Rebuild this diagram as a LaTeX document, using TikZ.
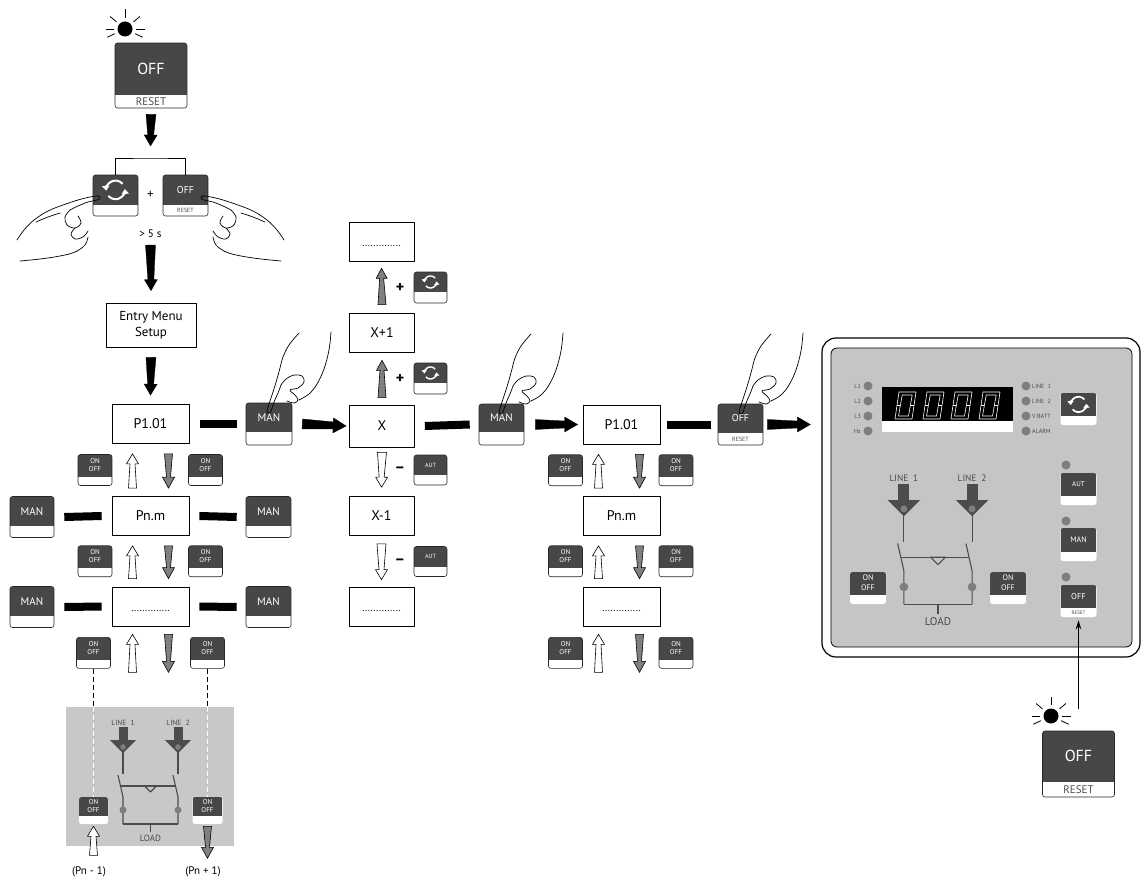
\documentclass[tikz,border=0pt]{standalone}
\usepackage{fontspec}
\setmainfont{PT Sans}
\usetikzlibrary{calc,positioning,arrows.meta}

\definecolor{btndark}{HTML}{474747}
\definecolor{panelgray}{HTML}{C5C5C5}
\definecolor{boxgray}{HTML}{C8C8C8}
\definecolor{arrgray}{HTML}{808080}
\definecolor{ledgray}{HTML}{7E7E7E}
\definecolor{linedark}{HTML}{4C4C4C}
\definecolor{txtgray}{HTML}{4A4A4A}

\newcommand{\fs}[1]{\fontsize{#1}{#1}\selectfont}
\newcommand{\twolines}[3]{\fontsize{#1}{#2}\selectfont\begin{tabular}{@{}c@{}}#3\end{tabular}}
\newcommand{\onoff}{\twolines{7}{8.5}{ON\\OFF}}
\newcommand{\dotrow}{\vphantom{P}{\fs{10}..............}}

% button: [style]{name}{centre}{width}{height}{dark part}{top text}{bottom text}
\newcommand{\keybtn}[8][btn]{%
  \node[#1, minimum width=#4, minimum height=#5,
    path picture={\fill[btndark, sharp corners] (path picture bounding box.north west)
      rectangle ($(path picture bounding box.north east)!#6!(path picture bounding box.south east)$);}]
    (#2) at (#3) {};
  \node[inner sep=0pt, text=white] (#2-t) at ($(#2.north)!#6/2!(#2.south)$) {#7};
  \node[inner sep=0pt, text=txtgray] (#2-b) at ($(#2.north)!0.5+#6/2!(#2.south)$) {#8};
}

% tapered arrow: [style]{base}{tip}{half base}{half neck}{half head}{head length}
\newcommand{\taparrow}[7][]{%
  \coordinate (ta-a) at (#2);
  \coordinate (ta-b) at (#3);
  \coordinate (ta-n) at ($(ta-b)!#7pt!(ta-a)$);
  \filldraw[#1] ($(ta-a)!#4pt!90:(ta-b)$) -- ($(ta-n)!#5pt!90:(ta-b)$) -- ($(ta-n)!#6pt!90:(ta-b)$)
    -- (ta-b) -- ($(ta-n)!#6pt!-90:(ta-b)$) -- ($(ta-n)!#5pt!-90:(ta-b)$) -- ($(ta-a)!#4pt!-90:(ta-b)$) -- cycle;
}

\tikzset{
  btn/.style={draw=black!85, line width=0.6pt, rounded corners=2.5pt, fill=white, inner sep=0pt},
  flatbtn/.style={btn, draw=none},
  disp/.style={draw, line width=0.7pt, minimum width=77, minimum height=39, inner sep=0pt, font=\fs{14}},
  bar/.style={line width=8pt},
  blackarr/.style={fill=black, draw=black, line width=0.3pt},
  grayarr/.style={fill=arrgray, draw=black, line width=0.6pt},
  hollowarr/.style={fill=white, draw=black, line width=0.6pt},
  handline/.style={line width=0.7pt, line cap=round},
  wire/.style={draw=linedark, line width=1.1pt},
  ledtxt/.style={font=\fs{6}, text=txtgray, inner sep=1pt},
  segline/.style={draw=white, line width=0.6pt},
  dline/.style={dash pattern=on 5pt off 3pt, line width=0.7pt},
  % blinking lamp
  sun/.pic={
    \fill (0,0) circle (7.5);
    \foreach \a in {0,25,155,180,220,270,320} \draw[line width=0.8pt] (\a:11) -- (\a:19.5);
  },
  % scroll symbol
  cyc/.pic={
    \draw[white, -{Triangle[length=0pt 2.4, width=0pt 3.6]}] (-40:5.5) arc (-40:-185:5.5);
    \draw[white, -{Triangle[length=0pt 2.4, width=0pt 3.6]}] (140:5.5) arc (140:-5:5.5);
  },
  % hand from above, finger tip at origin
  pointhand/.pic={
    \draw[handline] plot[smooth, tension=0.6] coordinates {(32,-79) (22,-67) (16,-55) (13,-44) (10,-33) (6,-20) (2,-8) (0,-1) (2,1) (4,-1) (7,-10) (11,-19) (14,-27)};
    \draw[handline] plot[smooth, tension=0.6] coordinates {(14,-27) (19,-33) (27,-37) (35,-36) (37,-30) (31,-24) (23,-22) (28,-17) (31,-12) (27,-9) (20,-11)};
    \draw[handline] plot[smooth, tension=0.6] coordinates {(64,-80) (62,-62) (57,-43) (50,-28) (42,-18) (32,-12)};
  },
  % hand from the side, finger tip at origin
  sidehand/.pic={
    \draw[handline] plot[smooth, tension=0.6] coordinates {(-81,43) (-74,33) (-64,23) (-50,14) (-35,8) (-20,3) (-8,0) (0,-1) (2,1) (-1,3) (-10,5) (-20,9) (-28,13)};
    \draw[handline] plot[smooth, tension=0.6] coordinates {(-62,25) (-50,20) (-38,16)};
    \draw[handline] plot[smooth, tension=0.6] coordinates {(-28,13) (-33,20) (-31,28) (-23,31) (-17,26) (-20,19)};
    \draw[handline] plot[smooth, tension=0.6] coordinates {(-23,31) (-27,37) (-23,42) (-15,40) (-10,34)};
    \draw[handline] plot[smooth, tension=0.6] coordinates {(-78,64) (-58,62) (-38,59) (-23,55) (-13,48) (-10,40)};
  },
  % two lines and load
  lines/.pic={
    \foreach \s/\n in {-27.5/1,27.5/2} {
      \node[font=\fs{7.5}, text=txtgray, inner sep=0pt] (-lbl\n) at (\s,-4.5) {LINE\ \ \n};
      \fill[linedark] (\s-4.5,0) rectangle (\s+4.5,14);
      \fill[linedark] (\s-13,13) -- (\s+13,13) -- (\s,26) -- cycle;
      \fill[ledgray] (\s,20) circle (2.8);
      \draw[wire] (\s,25) -- (\s,47);
      \draw[wire] (\s-5,48) -- (\s,70) -- (\s,97);
      \fill[ledgray] (\s,83) circle (3.5);
    }
    \draw[wire] (-30,59) -- (25,59);
    \draw[wire] (-6,59) -- (6,59) -- (0,65) -- cycle;
    \draw[wire] (-27.5,97) -- (27.5,97) (0,97) -- (0,105);
    \node[font=\fs{9}, text=txtgray, inner sep=0pt] (-load) at (0,111) {LOAD};
  }
}

\begin{document}
\begin{tikzpicture}[x=1pt, y=-1pt, line join=round, font=\fs{10}]
\useasboundingbox (0,0) rectangle (1146,880);

% start: OFF key blinking
\keybtn{offtop}{151,75.5}{72}{65}{0.8}{\fs{16}OFF}{\fs{11}RESET}
\pic at (125,29) {sun};

% both keys together
\coordinate (brk) at (150.5,158);
\keybtn{rotk}{115.5,195.5}{45}{41}{0.73}{}{}
\pic[scale=1.7, line width=2pt] at (rotk-t) {cyc};
\keybtn{offk}{185.5,195.5}{45}{41}{0.73}{\fs{10}OFF}{\fs{6}RESET}
\draw[line width=0.6pt] (rotk.north) |- (brk) -| (offk.north);
\node[font=\fs{13}, inner sep=0pt] (plusk) at (150.5,195) {+};
\node[font=\fs{11}, inner sep=0pt] (fives) at (150.5,234) {> 5 s};
\pic at (98,197) {sidehand};
\pic[xscale=-1] at (203,197) {sidehand};

\node[disp, minimum width=90, minimum height=44, align=center, font=\fontsize{13}{16.5}\selectfont] (entry) at (151,325) {Entry Menu\\Setup};
\taparrow[blackarr]{[yshift=-6pt]offtop.south}{[yshift=12pt]brk}{5}{3}{6.5}{11}
\taparrow[blackarr]{[yshift=-7pt]fives.south}{[yshift=12pt]entry.north}{5}{3}{6.5}{11}

% column 1: parameter list
\node[disp] (p1a) at (150.5,424) {P1.01};
\node[disp] (pnma) at (150.5,516) {Pn.m};
\node[disp] (dota) at (150.5,606.5) {\dotrow};
\taparrow[blackarr]{[yshift=-10pt]entry.south}{[yshift=9pt]p1a.north}{5}{3}{6.5}{11}

\keybtn{mana}{269,424}{46}{42}{0.68}{\fs{11}MAN}{}
\foreach \r/\y in {1/517,2/607} {
  \keybtn{manl\r}{32,\y}{44}{41}{0.72}{\fs{11}MAN}{}
  \keybtn{manr\r}{268.5,\y}{45}{41}{0.72}{\fs{11}MAN}{}
}
\draw[bar] ([xshift=11pt]p1a.east) -- ([xshift=-9pt]mana.west);
\draw[bar] ([xshift=10pt]manl1.east) -- ([xshift=-10pt]pnma.west);
\draw[bar] ([xshift=10pt]pnma.east) -- ([xshift=-9pt]manr1.west);
\draw[bar] ([xshift=10pt]manl2.east) -- ([xshift=-10pt]dota.west);
\draw[bar] ([xshift=10pt]dota.east) -- ([xshift=-9pt]manr2.west);

% column 2: value
\node[disp, minimum width=65] (dtop) at (381.5,241.5) {\dotrow};
\node[disp, minimum width=65] (xp1) at (382,332.5) {X+1};
\node[disp, minimum width=65, minimum height=42] (xx) at (382,426) {X};
\node[disp, minimum width=65] (xm1) at (381.5,516) {X-1};
\node[disp, minimum width=65] (dbot) at (381.5,606.5) {\dotrow};
\taparrow[grayarr]{[yshift=8pt]xp1.north}{[yshift=-7pt]dtop.south}{4}{2}{5.5}{10}
\taparrow[grayarr]{[yshift=7pt]xx.north}{[yshift=-8pt]xp1.south}{4}{2}{5.5}{10}
\taparrow[hollowarr]{[yshift=-5pt]xx.south}{[yshift=9pt]xm1.north}{4.5}{2.5}{6}{10}
\taparrow[hollowarr]{[yshift=-8pt]xm1.south}{[yshift=7pt]dbot.north}{4.5}{2.5}{6}{10}
\foreach \y/\n in {287.5/1,378.5/2} {
  \node[font=\bfseries\fs{16}, inner sep=0pt] (plx\n) at (400,\y) {+};
  \keybtn{rotx\n}{430.5,\y}{33}{31}{0.65}{}{}
  \pic[scale=1.1, line width=1.4pt] at (rotx\n-t) {cyc};
}
\foreach \y/\n in {470/1,561.5/2} {
  \node[font=\bfseries\fs{16}, inner sep=0pt] (mix\n) at (400,\y) {–};
  \keybtn{autx\n}{430.5,\y}{33}{30}{0.67}{\fs{6}AUT}{}
}
\keybtn{manb}{501.5,424.5}{45}{41}{0.68}{\fs{11}MAN}{}
\taparrow[blackarr]{[xshift=10pt]mana.east}{[xshift=-3pt]xx.west}{5}{3.5}{7.5}{13}
\draw[bar] ([xshift=10pt]xx.east) -- ([xshift=-9pt]manb.west);

% column 3: back in the list
\node[disp] (p1c) at (621.5,424.5) {P1.01};
\node[disp] (pnmc) at (621.5,516) {Pn.m};
\node[disp] (dotc) at (621.5,606.5) {\dotrow};
\taparrow[blackarr]{[xshift=11pt]manb.east}{[xshift=-5pt]p1c.west}{5}{3.5}{7.5}{13}
\keybtn{offc}{740.5,424.5}{45}{41}{0.7}{\fs{10}OFF}{\fs{6}RESET}
\draw[bar] ([xshift=7pt]p1c.east) -- ([xshift=-7pt]offc.west);

% scrolling with ON/OFF
\foreach \bxa/\bxb/\ua/\da/\lx/\rx in {p1a/pnma/-18/18/-55.5/55, pnma/dota/-18/18/-55.5/55, p1c/pnmc/-23/18/-56/54.5, pnmc/dotc/-23/18/-56/54.5} {
  \taparrow[hollowarr]{[xshift=\ua pt,yshift=8pt]\bxb.north}{[xshift=\ua pt,yshift=-10pt]\bxa.south}{4}{2.5}{6}{10}
  \taparrow[grayarr]{[xshift=\da pt,yshift=-10pt]\bxa.south}{[xshift=\da pt,yshift=8pt]\bxb.north}{4}{2}{6}{11}
  \keybtn{onl-\bxa}{$(\bxa.south)!0.5!(\bxb.north)+(\lx,0)$}{34}{31}{0.73}{\onoff}{}
  \keybtn{onr-\bxa}{$(\bxa.south)!0.5!(\bxb.north)+(\rx,0)$}{34}{31}{0.73}{\onoff}{}
}
\foreach \bxa/\ua/\da/\lx/\rx in {dota/-18/18/-57/57, dotc/-23/18/-56/54.5} {
  \taparrow[hollowarr]{[xshift=\ua pt,yshift=-46pt]\bxa.south}{[xshift=\ua pt,yshift=-8pt]\bxa.south}{4}{2.5}{6}{10}
  \taparrow[grayarr]{[xshift=\da pt,yshift=-8pt]\bxa.south}{[xshift=\da pt,yshift=-46pt]\bxa.south}{4}{2}{6}{11}
  \keybtn{onl-\bxa}{$(\bxa.south)+(\lx,26.5)$}{34}{31}{0.73}{\onoff}{}
  \keybtn{onr-\bxa}{$(\bxa.south)+(\rx,26.5)$}{34}{31}{0.73}{\onoff}{}
}

% hands pressing
\pic at (267,412) {pointhand};
\pic at (499,413) {pointhand};
\pic at (739,413) {pointhand};

% grey box: manual switching
\node[fill=boxgray, minimum width=168, minimum height=139, inner sep=0pt] (gbox) at (150,776.5) {};
\pic (gl) at (150.5,727) {lines};
\keybtn[flatbtn]{gonl}{93.5,810.5}{29}{27}{0.72}{\onoff}{}
\keybtn[flatbtn]{gonr}{207.5,810.5}{30}{27}{0.72}{\onoff}{}
\draw[dline] (onl-dota.south) -- (onl-dota.south |- gbox.north);
\draw[dline, white] (onl-dota.south |- gbox.north) -- (gonl.north);
\draw[dline] (onr-dota.south) -- (onr-dota.south |- gbox.north);
\draw[dline, white] (onr-dota.south |- gbox.north) -- (gonr.north);
\taparrow[hollowarr]{[yshift=-31pt]gonl.south}{[yshift=-2pt]gonl.south}{4}{2.5}{6}{10}
\taparrow[grayarr]{[yshift=-2pt]gonr.south}{[yshift=-34pt]gonr.south}{4}{2}{6}{11}
\node[font=\fs{11}] (pnminus) at (89,872) {(Pn - 1)};
\node[font=\fs{11}] (pnplus) at (203,872) {(Pn + 1)};

% front panel
\node[draw, line width=1.2pt, rounded corners=14pt, minimum width=318, minimum height=319, inner sep=0pt] (panel) at (981,497.5) {};
\node[draw, line width=0.8pt, fill=panelgray, rounded corners=6pt, minimum width=301, minimum height=299, inner sep=0pt] (face) at (981.5,497.5) {};
\coordinate (pin) at (panel.west |- offc.east);
\taparrow[blackarr]{[xshift=4pt]offc.east}{[xshift=-11pt]pin}{5}{3.5}{7.5}{13}
\node[fill=white, minimum width=131, minimum height=45, inner sep=0pt] (screen) at (947.5,409.5) {};
\fill[black] (screen.north west) rectangle ([yshift=11pt]screen.south east);
\foreach \x in {895,923,951,979} {
  \draw[segline] (\x,419) -- (\x+17,419) -- (\x+21,392) -- (\x+4,392) -- cycle;
  \draw[segline] (\x+3.5,416) -- (\x+13.5,416) -- (\x+17.2,395) -- (\x+7.2,395) -- cycle;
  \draw[segline] (\x+2,405.5) -- (\x+5.4,405.5) (\x+15.4,405.5) -- (\x+19,405.5);
}
\foreach \t [count=\i] in {L1,L2,L3,Hz} {
  \fill[ledgray] (868,371+15*\i) circle (4.5);
  \node[ledtxt, anchor=east] (ll\i) at (862,371+15*\i) {\t};
}
\foreach \t [count=\i] in {LINE\ \ 1,LINE\ \ 2,V BATT,ALARM} {
  \fill[ledgray] (1026,371+15*\i) circle (4.5);
  \node[ledtxt, anchor=west] (lr\i) at (1031,371+15*\i) {\t};
}
\keybtn[flatbtn]{rotp}{1078.5,409}{36}{32}{0.72}{}{}
\pic[scale=1.4, line width=1.7pt] at (rotp-t) {cyc};
\foreach \y in {465,521,577} \fill[ledgray] (1066,\y) circle (4.5);
\keybtn[flatbtn]{autp}{1078.5,489}{36}{32}{0.72}{\fs{7}AUT}{}
\keybtn[flatbtn]{manp}{1078.5,544.5}{36}{33}{0.72}{\fs{8}MAN}{}
\keybtn[flatbtn]{offp}{1078.5,601}{36}{32}{0.72}{\fs{8.5}OFF}{\fs{5}RESET}
\keybtn[flatbtn]{onpl}{868,588}{36}{32}{0.72}{\twolines{8}{9.5}{ON\\OFF}}{}
\keybtn[flatbtn]{onpr}{1008,588}{36}{32}{0.72}{\twolines{8}{9.5}{ON\\OFF}}{}
\pic[scale=1.24, transform shape] (pl) at (938,484) {lines};

% end: OFF key blinking
\keybtn{offbot}{1078.5,764}{72}{66}{0.77}{\fs{16}OFF}{\fs{11}RESET}
\pic at (1051,716) {sun};
\draw[-{Stealth[length=9pt,width=5.5pt]}, line width=0.7pt] ([yshift=22pt]offbot.north) -- ([yshift=-3pt]offp.south);
\end{tikzpicture}
\end{document}
